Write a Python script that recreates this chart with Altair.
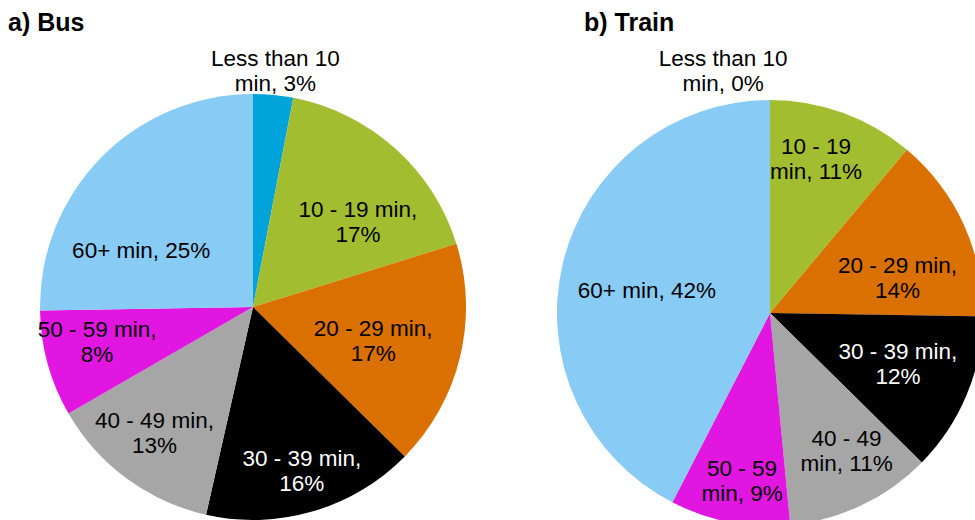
import math
import altair as alt
import pandas as pd

# ---- data ----
categories = ["Less than 10 min", "10 - 19 min", "20 - 29 min", "30 - 39 min",
              "40 - 49 min", "50 - 59 min", "60+ min"]
bus_values = [3, 17, 17, 16, 13, 8, 25]
train_values = [0, 11, 14, 12, 11, 9, 42]
bus_labels = ["Less than 10\nmin, 3%", "10 - 19 min,\n17%", "20 - 29 min,\n17%",
              "30 - 39 min,\n16%", "40 - 49 min,\n13%", "50 - 59 min,\n8%", "60+ min, 25%"]
train_labels = ["Less than 10\nmin, 0%", "10 - 19\nmin, 11%", "20 - 29 min,\n14%",
                "30 - 39 min,\n12%", "40 - 49\nmin, 11%", "50 - 59\nmin, 9%", "60+ min, 42%"]
colors = ["#00A3DA", "#A2BD30", "#DA7000", "#000000", "#A6A6A6", "#E116E1", "#88CBF4"]
label_colors = ["black", "black", "black", "white", "black", "black", "black"]

# ---- label placement (styling: angle in degrees clockwise from top, radius px) ----
bus_label_angle = [5.4, 51, 106, 163.5, 218, 257, 296.6]
bus_label_radius = [237, 135, 125, 172, 160, 160, 125]
train_label_angle = [-11, 16.7, 75, 112, 151, 189.4, 280]
train_label_radius = [246, 160, 132, 138, 158, 171, 125]

W, H = 975, 520
R = 213
BUS_C = (253, 307)
TRAIN_C = (770, 313)
FONT = "Liberation Sans"
FS = 22.5
LH = 25


def frame(values, labels, angles, radii):
    return pd.DataFrame({
        "category": categories,
        "value": values,
        "idx": list(range(len(categories))),
        "label": labels,
        "nl": [lab.count("\n") for lab in labels],
        "lcolor": label_colors,
        "la": angles,
        "lr": radii,
    })


color_scale = alt.Scale(domain=categories, range=colors)


def pie(df, center):
    cx, cy = center
    base = alt.Chart(df)
    arcs = base.mark_arc(radius=R, stroke=None).encode(
        theta=alt.Theta("value:Q", stack=True),
        order=alt.Order("idx:Q"),
        color=alt.Color("category:N", scale=color_scale, legend=None),
        x=alt.value(cx),
        y=alt.value(cy),
    )
    text = base.transform_calculate(
        lx=f"{cx} + datum.lr * sin(datum.la * PI / 180)",
        ly=f"{cy} - datum.lr * cos(datum.la * PI / 180) - datum.nl * {LH / 2}",
    ).mark_text(font=FONT, fontSize=FS, lineBreak="\n", lineHeight=LH,
                align="center", baseline="middle").encode(
        x=alt.X("lx:Q", scale=None, axis=None),
        y=alt.Y("ly:Q", scale=None, axis=None),
        text="label:N",
        color=alt.Color("lcolor:N", scale=None, legend=None),
    )
    return arcs, text


bus_arcs, bus_text = pie(frame(bus_values, bus_labels, bus_label_angle, bus_label_radius), BUS_C)
tr_arcs, tr_text = pie(frame(train_values, train_labels, train_label_angle, train_label_radius), TRAIN_C)

titles_df = pd.DataFrame({"t": ["a) Bus", "b) Train"], "px": [8, 584], "py": [30.5, 30.5]})
titles = alt.Chart(titles_df).mark_text(font=FONT, fontSize=25, fontWeight="bold",
                                         align="left", baseline="alphabetic", color="black").encode(
    x=alt.X("px:Q", scale=None, axis=None),
    y=alt.Y("py:Q", scale=None, axis=None),
    text="t:N",
)

chart = alt.layer(bus_arcs, tr_arcs, bus_text, tr_text, titles).resolve_scale(
    theta="independent"
).properties(
    width=W, height=H, autosize=alt.AutoSizeParams(type="none"), padding=0,
    background="white",
).configure_view(stroke=None)

chart.save("out.html", embed_options={"renderer": "svg", "actions": False})
